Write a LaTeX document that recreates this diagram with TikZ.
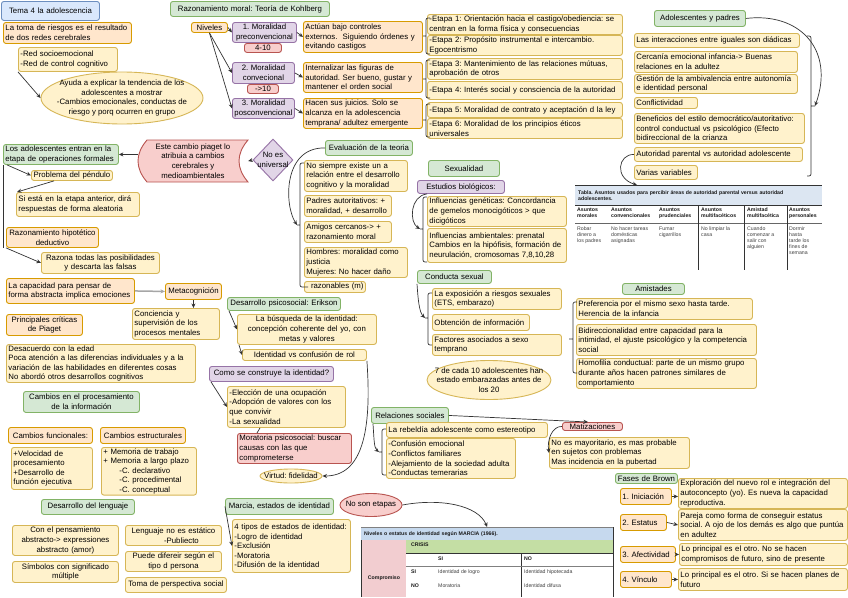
\documentclass[tikz,border=0pt]{standalone}
\usepackage{fontspec}
\setmainfont{Liberation Sans}
\usetikzlibrary{arrows.meta, shapes.geometric}
\frenchspacing

\definecolor{yelF}{HTML}{FFF2CC}
\definecolor{yelD}{HTML}{D6B656}
\definecolor{oraF}{HTML}{FFE6CC}
\definecolor{oraD}{HTML}{D79B00}
\definecolor{greF}{HTML}{D5E8D4}
\definecolor{greD}{HTML}{82B366}
\definecolor{purF}{HTML}{E1D5E7}
\definecolor{purD}{HTML}{9673A6}
\definecolor{redF}{HTML}{F8CECC}
\definecolor{redD}{HTML}{B85450}
\definecolor{bluF}{HTML}{DAE8FC}
\definecolor{bluD}{HTML}{6C8EBF}
\definecolor{tabBlue}{HTML}{DCE6F2}
\definecolor{mBlue}{HTML}{C6D9EE}
\definecolor{mGreen}{HTML}{C4DEA4}
\definecolor{mPink}{HTML}{F2CDD0}

\begin{document}
\begin{tikzpicture}[
    x=1pt, y=-1pt,
    >={Stealth[length=4.5pt, width=4pt]},
    every node/.style={font=\fontsize{7.8}{9.6}\selectfont, inner sep=0pt},
    box/.style={draw, rounded corners=2.5pt, line width=0.9pt, inner xsep=2pt, inner ysep=1pt, anchor=north west},
    ybox/.style={box, draw=yelD, fill=yelF, align=left},
    obox/.style={box, draw=oraD, fill=oraF, align=left},
    gbox/.style={box, draw=greD, fill=greF, align=center},
    pbox/.style={box, draw=purD, fill=purF, align=center},
    rbox/.style={box, draw=redD, fill=redF, align=left},
    bbox/.style={box, draw=bluD, fill=bluF, align=center},
    oval/.style={ellipse, line width=0.9pt, draw=yelD, fill=yelF},
    link/.style={->, draw=black!80, line width=0.7pt},
    brk/.style={draw=black!80, line width=0.7pt, rounded corners=2pt},
    tab/.style={anchor=north west, align=left, font=\fontsize{5.2}{6}\selectfont, text=black!75},
    tabh/.style={tab, font=\fontsize{5.2}{6}\selectfont\bfseries, text=black!90}
]
\fill[white] (0,0) rectangle (848,597);
\useasboundingbox (0,0) rectangle (848,597);

\node[bbox, text width=94pt, minimum height=19pt] (tema) at (1,1) {Tema 4 la adolescencia};
\node[obox, text width=124pt, minimum height=21pt] (riesgo) at (3,22) {La toma de riesgos es el resultado\\de dos redes cerebrales};
\node[ybox, text width=95pt, minimum height=24pt] (redes) at (18,47) {-Red socioemocional\\-Red de control cognitivo};
\node[oval, minimum width=162pt, minimum height=52pt, label={[align=center]center:Ayuda a explicar la tendencia de los\\adolescentes a mostrar\\-Cambios emocionales, conductas de\\riesgo y porq ocurren en grupo}] (ayuda) at (122,98) {};

\node[gbox, text width=155pt, minimum height=15pt] (kohl) at (170,1) {Razonamiento moral: Teoría de Kohlberg};
\node[obox, text width=32pt, minimum height=10pt, align=center] (niv) at (191,22) {Niveles};
\node[pbox, text width=60pt, minimum height=20pt] (m1) at (232,22) {1. Moralidad\\preconvencional};
\node[rbox, text width=33pt, minimum height=9pt, inner ysep=0pt, align=center] (e410) at (244,43) {4-10};
\node[pbox, text width=58pt, minimum height=21pt] (m2) at (232,62) {2. Moralidad\\convecional};
\node[rbox, text width=27pt, minimum height=9pt, inner ysep=0pt, align=center] (e10) at (247,84) {->10};
\node[pbox, text width=58pt, minimum height=20pt] (m3) at (232,98) {3. Moralidad\\posconvencional};
\node[obox, text width=115pt, minimum height=31pt] (o1) at (303,21) {Actúan bajo controles\\externos.\ \ Siguiendo órdenes y\\evitando castigos};
\node[obox, text width=115pt, minimum height=30pt] (o2) at (303,62) {Internalizar las figuras de\\autoridad. Ser bueno, gustar y\\mantener el orden social};
\node[obox, text width=115pt, minimum height=30pt] (o3) at (303,98) {Hacen sus juicios. Solo se\\alcanza en la adolescencia\\temprana/ adultez emergente};
\node[ybox, text width=191pt, minimum height=20pt] (et1) at (427,14) {-Etapa 1: Orientación hacia el castigo/obediencia: se\\centran en la forma física y consecuencias};
\node[ybox, text width=191pt, minimum height=20pt] (et2) at (427,35) {-Etapa 2: Propósito instrumental e intercambio.\\Egocentrismo};
\node[ybox, text width=191pt, minimum height=21pt] (et3) at (427,58) {-Etapa 3: Mantenimiento de las relaciones mútuas,\\aprobación de otros};
\node[ybox, text width=191pt, minimum height=18pt] (et4) at (427,81) {-Etapa 4: Interés social y consciencia de la autoridad};
\node[ybox, text width=191pt, minimum height=15pt] (et5) at (427,102) {-Etapa 5: Moralidad de contrato y aceptación d la ley};
\node[ybox, text width=191pt, minimum height=20pt] (et6) at (427,118) {-Etapa 6: Moralidad de los principios éticos\\universales};

\node[gbox, text width=87pt, minimum height=16pt] (adp) at (654,10) {Adolescentes y padres};
\node[ybox, text width=161pt, minimum height=14pt] (a1) at (634,33) {Las interacciones entre iguales son diádicas};
\node[ybox, text width=159pt, minimum height=21pt] (a2) at (634,51) {Cercanía emocional infancia-> Buenas\\relaciones en la adultez};
\node[ybox, text width=159pt, minimum height=19pt] (a3) at (634,74) {Gestión de la ambivalencia entre autonomía\\e identidad personal};
\node[ybox, text width=59pt, minimum height=11pt] (a4) at (634,97) {Conflictividad};
\node[ybox, text width=166pt, minimum height=30pt] (a5) at (634,113) {Beneficios del estilo democrático/autoritativo:\\control conductual vs psicológico (Efecto\\bidireccional de la crianza};
\node[ybox, text width=164pt, minimum height=14pt] (a6) at (634,147) {Autoridad parental vs autoridad adolescente};
\node[ybox, text width=59pt, minimum height=14pt] (a7) at (634,165) {Varias variables};

\node[gbox, text width=83pt, minimum height=15pt] (eval) at (325,140) {Evaluación de la teoria};
\node[diamond, draw=purD, fill=purF, line width=0.9pt, minimum width=40pt, minimum height=42pt, label={[align=center]center:No es\\universal}] (noes) at (273,160) {};
\filldraw[draw=redD, fill=redF, line width=0.9pt] (147,140) -- (248,140) .. controls (236,154) and (236,168) .. (248,182) -- (147,182) .. controls (135,168) and (135,154) .. (147,140) -- cycle;
\node[align=center, minimum width=110pt] (piag) at (193,161) {Este cambio piaget lo\\atribuia a cambios\\cerebrales y\\medioambientales};
\node[gbox, align=left, text width=111pt, minimum height=20pt] (ops) at (3,144) {Los adolescentes entran en la\\etapa de operaciones formales};
\node[ybox, align=center, text width=77pt, minimum height=10pt] (pend) at (31,170) {Problema del péndulo};
\node[ybox, text width=119pt, minimum height=24pt] (sies) at (16,192) {Si está en la etapa anterior, dirá\\respuestas de forma aleatoria};
\node[obox, align=center, text width=88pt, minimum height=20pt] (hipo) at (6,227) {Razonamiento hipotético\\deductivo};
\node[ybox, align=center, text width=114pt, minimum height=21pt] (razona) at (41,252) {Razona todas las posibilidades\\y descarta las falsas};
\node[obox, text width=124pt, minimum height=25pt] (capac) at (6,278) {La capacidad para pensar de\\forma abstracta implica emociones};
\node[obox, align=center, text width=52pt, minimum height=16pt] (meta) at (165,283) {Metacognición};
\node[ybox, text width=83pt, minimum height=31pt] (conc) at (132,308) {Conciencia y\\supervisión de los\\procesos mentales};
\node[obox, align=center, text width=72pt, minimum height=21pt] (crit) at (6,314) {Principales críticas\\de Piaget};
\node[ybox, text width=185pt, minimum height=37pt] (desac) at (6,344) {Desacuerdo con la edad\\Poca atención a las diferencias individuales y a la\\variación de las habilidades en diferentes cosas\\No abordó otros desarrollos cognitivos};

\node[ybox, text width=99pt, minimum height=31pt] (ev1) at (304,160) {No siempre existe un a\\relación entre el desarrollo\\cognitivo y la moralidad};
\node[ybox, text width=83pt, minimum height=21pt] (ev2) at (304,195) {Padres autoritativos: +\\moralidad, + desarrollo};
\node[ybox, text width=83pt, minimum height=21pt] (ev3) at (304,221) {Amigos cercanos-> +\\razonamiento moral};
\node[ybox, text width=99pt, minimum height=30pt] (ev4) at (304,247) {Hombres: moralidad como\\justicia\\Mujeres: No hacer daño};
\node[ybox, text width=57pt, minimum height=11pt, align=right] (ev5) at (304,281) {razonables (m)};

\node[gbox, text width=67pt, minimum height=16pt] (sex) at (428,160) {Sexualidad};
\node[pbox, text width=83pt, minimum height=13pt] (estb) at (417,180) {Estudios biológicos:};
\node[ybox, text width=135pt, minimum height=30pt] (sx1) at (427,196) {Influencias genéticas: Concordancia\\de gemelos monocigóticos > que\\dicigóticos};
\node[ybox, text width=135pt, minimum height=34pt] (sx2) at (427,228) {Influencias ambientales: prenatal\\Cambios en la hipófisis, formación de\\neurulación, cromosomas 7,8,10,28};
\node[gbox, text width=70pt, minimum height=13pt] (cond) at (417,270) {Conducta sexual};
\node[ybox, text width=125pt, minimum height=21pt] (cs1) at (432,288) {La exposición a riesgos sexuales\\(ETS, embarazo)};
\node[ybox, text width=93pt, minimum height=16pt] (cs2) at (432,314) {Obtención de información};
\node[ybox, text width=125pt, minimum height=21pt] (cs3) at (432,334) {Factores asociados a sexo\\temprano};
\node[oval, minimum width=124pt, minimum height=39pt, label={[align=center]center:7 de cada 10 adolescentes han\\estado embarazadas antes de\\los 20}] (siete) at (489,380) {};

\node[tabh, fill=tabBlue, text width=241pt, minimum height=20pt, inner xsep=3pt] (tcap) at (575,185) {Tabla. Asuntos usados para percibir áreas de autoridad parental versus autoridad\\adolescentes.};
\draw[line width=1pt, black!80] (575,185) -- (822,185) (575,205) -- (822,205);
\draw[line width=0.5pt, black!60] (575,223) -- (822,223);
\draw[line width=1pt, black!80] (698,205) -- (698,270) (744,205) -- (744,270) (787,205) -- (787,270);
\node[tabh] (th1) at (577,208) {Asuntos\\morales};
\node[tabh] (th2) at (611,208) {Asuntos\\convencionales};
\node[tabh] (th3) at (659,208) {Asuntos\\prudenciales};
\node[tabh] (th4) at (701,208) {Asuntos\\multifacéticos};
\node[tabh] (th5) at (747,208) {Amistad\\multifacética};
\node[tabh] (th6) at (789,208) {Asuntos\\personales};
\node[tab] (td1) at (577,227) {Robar\\dinero a\\los padres};
\node[tab] (td2) at (611,227) {No hacer tareas\\domésticas\\asignadas};
\node[tab] (td3) at (659,227) {Fumar\\cigarrillos};
\node[tab] (td4) at (701,227) {No limpiar la\\casa};
\node[tab] (td5) at (747,227) {Cuando\\comenzar a\\salir con\\alguien};
\node[tab] (td6) at (789,227) {Dormir\\hasta\\tarde los\\fines de\\semana};

\node[gbox, text width=58pt, minimum height=11pt] (amis) at (622,283) {Amistades};
\node[ybox, text width=172pt, minimum height=21pt] (am1) at (576,298) {Preferencia por el mismo sexo hasta tarde.\\Herencia de la infancia};
\node[ybox, text width=176pt, minimum height=31pt] (am2) at (576,324) {Bidireccionalidad entre capacidad para la\\intimidad, el ajuste psicológico y la competencia\\social};
\node[ybox, text width=176pt, minimum height=30pt] (am3) at (576,358) {Homofilia conductual: parte de un mismo grupo\\durante años hacen patrones similares de\\comportamiento};

\node[gbox, text width=109pt, minimum height=13pt] (psico) at (227,297) {Desarrollo psicosocial: Erikson};
\node[ybox, align=center, text width=135pt, minimum height=30pt] (busq) at (237,314) {La búsqueda de la identidad:\\concepción coherente del yo, con\\metas y valores};
\node[ybox, align=center, text width=120pt, minimum height=11pt] (ident) at (242,349) {Identidad vs confusión de rol};
\node[pbox, text width=120pt, minimum height=15pt] (como) at (209,366) {Como se construye la identidad?};
\node[ybox, text width=114pt, minimum height=41pt] (elec) at (227,386) {-Elección de una ocupación\\-Adopción de valores con los\\que convivir\\-La sexualidad};
\node[rbox, text width=110pt, minimum height=30pt] (morat) at (237,433) {Moratoria psicosocial: buscar\\causas con las que\\comprometerse};
\node[oval, minimum width=62pt, minimum height=14pt, label=center:{Virtud: fidelidad}] (virtud) at (291,476) {};

\node[gbox, text width=112pt, minimum height=21pt] (cproc) at (23,391) {Cambios en el procesamiento\\de la información};
\node[obox, align=center, text width=80pt, minimum height=16pt] (cfun) at (8,427) {Cambios funcionales:};
\node[obox, align=center, text width=81pt, minimum height=16pt] (cest) at (100,427) {Cambios estructurales};
\node[ybox, text width=77pt, minimum height=42pt] (vel) at (11,447) {+Velocidad de\\procesamiento\\+Desarrollo de\\función ejecutiva};
\node[ybox, text width=91pt, minimum height=47pt] (mem) at (101,447) {+ Memoria de trabajo\\+ Memoria a largo plazo\\\hspace*{16pt}-C. declarativo\\\hspace*{16pt}-C. procedimental\\\hspace*{16pt}-C. conceptual};
\node[gbox, text width=89pt, minimum height=15pt] (leng) at (41,499) {Desarrollo del lenguaje};
\node[ybox, align=center, text width=102pt, minimum height=30pt] (l1) at (12,525) {Con el pensamiento\\abstracto-> expressiones\\abstracto (amor)};
\node[ybox, align=center, text width=102pt, minimum height=21pt] (l2) at (12,561) {Símbolos con significado\\múltiple};
\node[ybox, align=center, text width=92pt, minimum height=20pt] (l3) at (125,525) {Lenguaje no es estático\\\hspace*{16pt}-Publiecto};
\node[ybox, align=center, text width=92pt, minimum height=20pt] (l4) at (125,551) {Puede difereir según el\\tipo d persona};
\node[ybox, align=center, text width=97pt, minimum height=15pt] (l5) at (125,577) {Toma de perspectiva social};

\node[gbox, text width=104pt, minimum height=16pt] (marcia) at (225,498) {Marcia, estados de identidad};
\node[ybox, text width=114pt, minimum height=53pt] (tipos) at (232,519) {4 tipos de estados de identidad:\\-Logro de identidad\\-Exclusión\\-Moratoria\\-Difusión de la identidad};
\node[oval, draw=redD, fill=redF, minimum width=62pt, minimum height=23pt, label=center:{No son etapas}] (noson) at (371,505) {};

\fill[mPink] (361,540) rectangle (406,597);
\fill[mGreen] (406,540) rectangle (613,553);
\node[tabh, fill=mBlue, text width=246pt, minimum height=13pt, inner xsep=3pt] (mcap) at (361,527) {Niveles o estatus de identidad según MARCIA (1966).};
\draw[line width=0.5pt, black!50] (361,527) -- (613,527);
\draw[line width=1pt, black!80] (361,540) -- (361,597) (613,527) -- (613,597) (406,553) -- (613,553) (521,553) -- (521,597);
\draw[line width=0.5pt, black!50] (406,566) -- (613,566);
\node[tabh] (mcr) at (411,543) {CRISIS};
\node[tabh] (mcsi) at (438,557) {SI};
\node[tabh] (mcno) at (524,557) {NO};
\node[tabh] (mrsi) at (411,570) {SI};
\node[tab] (mlog) at (438,570) {Identidad de logro};
\node[tab] (mhip) at (524,570) {Identidad hipotecada};
\node[tabh] (mrno) at (411,584) {NO};
\node[tab] (mmor) at (438,584) {Moratoria};
\node[tab] (mdif) at (524,584) {Identidad difusa};
\node[tabh, anchor=center] (mcomp) at (384,578) {Compromiso};

\node[gbox, text width=73pt, minimum height=16pt] (rels) at (371,407) {Relaciones sociales};
\node[ybox, text width=157pt, minimum height=15pt] (rebel) at (386,422) {La rebeldía adolescente como estereotipo};
\node[ybox, text width=125pt, minimum height=40pt] (confu) at (386,438) {-Confusión emocional\\-Conflictos familiares\\-Alejamiento de la sociedad adulta\\-Conductas temerarias};
\node[rbox, align=center, text width=56pt, minimum height=8pt, inner ysep=0pt] (matiz) at (562,422) {Matizaciones};
\node[ybox, text width=136pt, minimum height=31pt] (nomay) at (549,437) {No es mayoritario, es mas probable\\en sujetos con problemas\\Mas incidencia en la pubertad};

\node[gbox, text width=58pt, minimum height=10pt] (brown) at (615,473) {Fases de Brown};
\node[obox, text width=47pt, minimum height=16pt] (b1) at (620,488) {1. Iniciación};
\node[ybox, text width=165pt, minimum height=30pt] (d1) at (678,478) {Exploración del nuevo rol e integración del\\autoconcepto (yo). Es nueva la capacidad\\reproductiva.};
\node[obox, text width=42pt, minimum height=16pt] (b2) at (620,514) {2. Estatus};
\node[ybox, text width=165pt, minimum height=31pt] (d2) at (678,509) {Pareja como forma de conseguir estatus\\social. A ojo de los demás es algo que puntúa\\en adultez};
\node[obox, text width=51pt, minimum height=16pt] (b3) at (620,546) {3. Afectividad};
\node[ybox, text width=164pt, minimum height=22pt] (d3) at (679,543) {Lo principal es el otro. No se hacen\\compromisos de futuro, sino de presente};
\node[obox, text width=47pt, minimum height=16pt] (b4) at (620,571) {4. Vínculo};
\node[ybox, text width=165pt, minimum height=22pt] (d4) at (678,568) {Lo principal es el otro. Si se hacen planes de\\futuro};

\draw[link] (redes.south west) -- (ayuda.west);
\draw[link] (niv.east) -- (m1.west);
\draw[link] (niv.south) -- (m2.west);
\draw[link] (niv.south) -- (m3.west);
\draw[link] (m1.east) -- (o1.west);
\draw[link] (m2.east) -- (o2.west);
\draw[link] (m3.east) -- (o3.west);
\draw[brk] (430,18) -- (426,18) -- (426,54) -- (430,54) (426,36) -- (423,36);
\draw[brk] (430,60) -- (426,60) -- (426,98) -- (430,98) (426,79) -- (423,79);
\draw[brk] (430,104) -- (426,104) -- (426,137) -- (430,137) (426,120) -- (423,120);

\draw[link] (noes.west) -- (piag.east);
\draw[link] (piag.west |- ops.east) -- (ops.east);
\draw[link] ([xshift=4pt]ops.south west) -- (pend.west);
\draw[link] ([xshift=-18pt]pend.south) -- ([xshift=1pt]sies.north west);
\draw[draw=black!80, line width=0.7pt] (ops.south west) -- (ops.south west |- hipo.south);
\draw[link] (hipo.south west) -- (razona.west);
\draw[->, draw=gray!70, line width=1.5pt] (capac.east) -- (meta.west);
\draw[link] (meta.south) -- (meta.south |- conc.north);

\coordinate (bkE) at (297,225);
\draw[link] (eval.west) .. controls (283,147) and (284,205) .. (bkE);
\draw[brk] (304,163) -- (300,163) -- (300,287) -- (308,287) (300,225) -- (297,225);

\coordinate (bkS) at (420,229);
\draw[link] ([xshift=10pt]estb.south west) .. controls (410,196) and (409,222) .. (bkS);
\draw[brk] (427,197) -- (423,197) -- (423,262) -- (427,262) (423,229) -- (420,229);
\coordinate (bkC) at (425,318);
\draw[link] (cond.south west) .. controls (418,298) and (419,312) .. (bkC);
\draw[brk] (432,293) -- (428,293) -- (428,345) -- (432,345) (428,318) -- (425,318);

\coordinate (bkA) at (815,106);
\draw[link] (adp.east) .. controls (800,12) and (835,50) .. (bkA);
\draw[brk] (807,36) -- (811,36) -- (811,176) -- (807,176) (811,106) -- (815,106);
\draw[link] (a6.west) .. controls (618,154) and (614,178) .. ([xshift=62pt]tcap.north west);
\draw[brk] (577,302) -- (573,302) -- (573,373) -- (577,373) (573,339) -- (569,339);

\draw[link] ([xshift=2pt]psico.south west) -- (busq.west);
\draw[link] ([xshift=2pt]busq.south west) -- (ident.west);
\draw[link] ([xshift=2pt]como.south west) -- (elec.west);
\draw[draw=black!80, line width=0.7pt] ([xshift=33pt]elec.south west) -- ([xshift=20pt]morat.north west);
\draw[link] (ident.south east) .. controls (372,432) and (362,476) .. (virtud.east);

\coordinate (bkR) at (379,452);
\draw[link] ([xshift=2pt]rels.south west) .. controls (374,438) and (374,448) .. (bkR);
\draw[brk] (386,429) -- (382,429) -- (382,475) -- (386,475) (382,452) -- (379,452);
\draw[link] (rels.east) -- ([xshift=26pt]matiz.north west);
\draw[link] (matiz.west) .. controls (552,426) and (547,440) .. (nomay.west);

\draw[link] (marcia.west) -- (tipos.west);
\draw[link] (noson.east) .. controls (440,498) and (478,505) .. (mcap.north);
\draw[link] (b1.east) -- (b1.east -| d1.west);
\draw[link] (b2.east) -- (d2.west);
\draw[link] (b3.east) -- (b3.east -| d3.west);
\draw[link] (b4.east) -- (b4.east -| d4.west);
\end{tikzpicture}
\end{document}
